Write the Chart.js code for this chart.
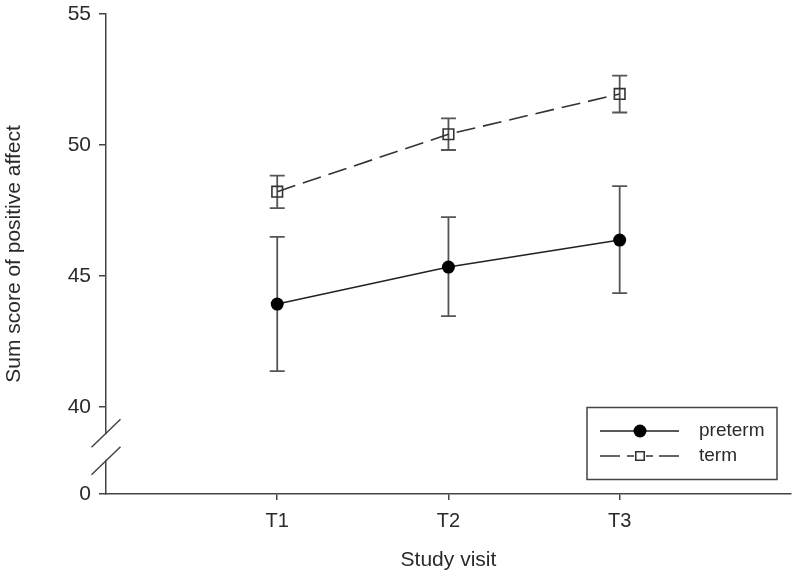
<!DOCTYPE html>
<html>
<head>
<meta charset="utf-8">
<script src="https://cdn.jsdelivr.net/npm/chart.js@4.4.1/dist/chart.umd.min.js"></script>
<style>
  html, body { margin: 0; padding: 0; background: #fff; }
  #wrap { width: 800px; height: 579px; }
</style>
</head>
<body>
<div id="wrap"><canvas id="grafico" width="800" height="579"></canvas></div>
<script>
// data
const visits = ["T1", "T2", "T3"];
const pretermMean = [43.93, 45.34, 46.37];
const pretermLow = [41.37, 43.47, 44.35];
const pretermHigh = [46.49, 47.25, 48.43];
const termMean = [48.22, 50.41, 51.95];
const termLow = [47.59, 49.81, 51.24];
const termHigh = [48.83, 51.02, 52.65];
const yTickLabels = ["0", "40", "45", "50", "55"];
const yTickValues = [0, 40, 45, 50, 55];

// broken axis: the "0" sits a little below 40
const breakBase = 36.68;
const toAxis = (v) => (v < 40 ? breakBase : v);

const punti = (arr) => arr.map((v, i) => ({ x: i + 1, y: v }));
const font = "'Liberation Sans', Arial, sans-serif";
const textColor = "#2a2a2a";
const axisColor = "#444";

const erroriPlugin = {
  id: "errori",
  beforeDatasetsDraw(chart) {
    const ctx = chart.ctx;
    const xs = chart.scales.x;
    const ys = chart.scales.y;
    const gruppi = [
      [pretermLow, pretermHigh],
      [termLow, termHigh],
    ];
    ctx.save();
    ctx.strokeStyle = "#555";
    ctx.lineWidth = 1.8;
    gruppi.forEach(([low, high]) => {
      low.forEach((lo, i) => {
        const x = xs.getPixelForValue(i + 1);
        const y1 = ys.getPixelForValue(lo);
        const y2 = ys.getPixelForValue(high[i]);
        ctx.beginPath();
        ctx.moveTo(x, y1);
        ctx.lineTo(x, y2);
        ctx.moveTo(x - 7.5, y1);
        ctx.lineTo(x + 7.5, y1);
        ctx.moveTo(x - 7.5, y2);
        ctx.lineTo(x + 7.5, y2);
        ctx.stroke();
      });
    });
    ctx.restore();
  },
};

const interruzionePlugin = {
  id: "interruzione",
  afterDraw(chart) {
    const ctx = chart.ctx;
    const ys = chart.scales.y;
    const x = chart.chartArea.left;
    const ya = ys.getPixelForValue(39.0);
    const yb = ys.getPixelForValue(37.95);
    ctx.save();
    ctx.fillStyle = "#fff";
    ctx.fillRect(x - 3, ya + 1, 6, yb - ya - 2);
    ctx.strokeStyle = axisColor;
    ctx.lineWidth = 1.5;
    [ya, yb].forEach((y) => {
      ctx.beginPath();
      ctx.moveTo(x - 14.5, y + 14);
      ctx.lineTo(x + 14.5, y - 14);
      ctx.stroke();
    });
    ctx.restore();
  },
};

const legendaPlugin = {
  id: "legenda",
  afterDraw(chart) {
    const ctx = chart.ctx;
    ctx.save();
    ctx.strokeStyle = axisColor;
    ctx.lineWidth = 1.5;
    ctx.strokeRect(587, 407.5, 190, 72);
    const righe = [431, 456];
    chart.data.datasets.forEach((ds, i) => {
      const y = righe[i];
      ctx.strokeStyle = ds.borderColor;
      ctx.lineWidth = ds.borderWidth;
      ctx.beginPath();
      if (ds.borderDash) {
        ctx.moveTo(600, y); ctx.lineTo(620, y);
        ctx.moveTo(627, y); ctx.lineTo(634, y);
        ctx.moveTo(646, y); ctx.lineTo(653, y);
        ctx.moveTo(659, y); ctx.lineTo(679, y);
      } else {
        ctx.moveTo(600, y);
        ctx.lineTo(679, y);
      }
      ctx.stroke();
      ctx.fillStyle = ds.pointBackgroundColor;
      ctx.strokeStyle = ds.pointBorderColor;
      ctx.lineWidth = ds.pointBorderWidth;
      Chart.helpers.drawPoint(ctx, {
        pointStyle: ds.pointStyle,
        radius: ds.pointStyle === "rect" ? 6 : ds.pointRadius,
        borderWidth: ds.pointBorderWidth,
      }, 640, y);
      ctx.fillStyle = textColor;
      ctx.font = "19px " + font;
      ctx.textBaseline = "middle";
      ctx.fillText(ds.label, 699, y);
    });
    ctx.restore();
  },
};

const grafico = new Chart(document.getElementById("grafico"), {
  type: "line",
  data: {
    datasets: [
      {
        label: "preterm",
        data: punti(pretermMean),
        borderColor: "#222",
        borderWidth: 1.5,
        pointStyle: "circle",
        pointRadius: 6.5,
        pointBorderWidth: 0,
        pointBackgroundColor: "#000",
        pointBorderColor: "#000",
      },
      {
        label: "term",
        data: punti(termMean),
        borderColor: "#333",
        borderWidth: 1.6,
        borderDash: [19, 8],
        pointStyle: "rect",
        pointRadius: 7.5,
        pointBorderWidth: 1.6,
        pointBackgroundColor: "rgba(0,0,0,0)",
        pointBorderColor: "#333",
      },
    ],
  },
  options: {
    responsive: false,
    animation: false,
    events: [],
    layout: { padding: { top: 14, right: 8, left: 0, bottom: 0 } },
    plugins: {
      legend: { display: false },
      tooltip: { enabled: false },
    },
    scales: {
      x: {
        type: "linear",
        min: 0,
        max: 4,
        afterBuildTicks: (scale) => {
          scale.ticks = visits.map((v, i) => ({ value: i + 1 }));
        },
        afterFit: (scale) => { scale.height = 85; },
        ticks: {
          callback: (v) => visits[v - 1] || "",
          color: textColor,
          font: { family: font, size: 20 },
          padding: 9,
          maxRotation: 0,
        },
        grid: { drawOnChartArea: false, drawTicks: true, tickLength: 6, color: axisColor, lineWidth: 1.5 },
        border: { display: true, color: axisColor, width: 1.5 },
        title: {
          display: true,
          text: "Study visit",
          color: textColor,
          font: { family: font, size: 21 },
          padding: { top: 0, bottom: 6 },
        },
      },
      y: {
        type: "linear",
        min: breakBase,
        max: 55,
        afterBuildTicks: (scale) => {
          scale.ticks = yTickValues.map((v) => ({ value: toAxis(v) }));
        },
        afterFit: (scale) => {
          scale.width = 106;
          scale.paddingTop = 0;
          scale.paddingBottom = 0;
        },
        ticks: {
          callback: (v) => {
            const i = yTickValues.map(toAxis).indexOf(v);
            return i >= 0 ? yTickLabels[i] : "";
          },
          color: textColor,
          font: { family: font, size: 21 },
          padding: 8,
        },
        grid: { drawOnChartArea: false, drawTicks: true, tickLength: 7, color: axisColor, lineWidth: 1.5 },
        border: { display: true, color: axisColor, width: 1.5 },
        title: {
          display: true,
          text: "Sum score of positive affect",
          color: textColor,
          font: { family: font, size: 21 },
          padding: { top: 2, bottom: 0 },
        },
      },
    },
  },
  plugins: [erroriPlugin, interruzionePlugin, legendaPlugin],
});
</script>
</body>
</html>
